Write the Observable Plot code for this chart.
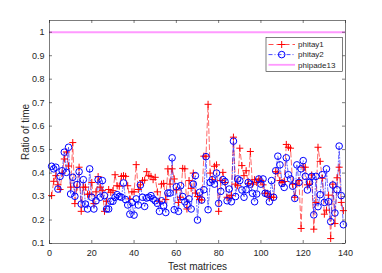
<!DOCTYPE html>
<html><head><meta charset="utf-8">
<script src="https://cdn.jsdelivr.net/npm/d3@7"></script>
<script src="https://cdn.jsdelivr.net/npm/@observablehq/plot@0.6"></script>
<style>html,body{margin:0;padding:0;background:#fff}svg{display:block}</style>
</head><body><div id="chart"></div>
<script>
const phitay1 = [0.304,0.365,0.389,0.35,0.33,0.40,0.46,0.49,0.43,0.34,
0.53,0.27,0.34,0.425,0.237,0.34,0.34,0.31,0.31,0.36,
0.27,0.32,0.385,0.34,0.325,0.237,0.28,0.33,0.318,0.325,
0.393,0.346,0.344,0.386,0.389,0.386,0.346,0.29,0.32,0.32,
0.436,0.33,0.35,0.368,0.37,0.406,0.389,0.386,0.372,0.382,
0.32,0.28,0.353,0.356,0.287,0.418,0.353,0.418,0.375,0.328,
0.275,0.297,0.42,0.418,0.247,0.368,0.335,0.40,0.315,0.30,
0.287,0.285,0.472,0.472,0.693,0.40,0.372,0.429,0.435,0.237,
0.368,0.403,0.36,0.297,0.294,0.304,0.553,0.353,0.346,0.506,
0.432,0.389,0.41,0.356,0.492,0.353,0.372,0.36,0.375,0.368,
0.35,0.314,0.314,0.297,0.297,0.297,0.406,0.40,0.368,0.36,
0.364,0.522,0.51,0.506,0.353,0.297,0.353,0.368,0.164,0.425,
0.425,0.35,0.353,0.392,0.161,0.275,0.51,0.45,0.378,0.225,
0.242,0.306,0.121,0.353,0.185,0.38,0.425,0.275,0.24];
const phitay2 = [0.429,0.418,0.425,0.332,0.386,0.41,0.489,0.403,0.51,0.311,
0.382,0.301,0.351,0.406,0.268,0.372,0.268,0.247,0.418,0.297,
0.247,0.282,0.372,0.297,0.368,0.304,0.247,0.247,0.28,0.28,
0.297,0.308,0.30,0.297,0.358,0.287,0.264,0.225,0.275,0.221,
0.29,0.264,0.349,0.297,0.258,0.294,0.297,0.304,0.29,0.282,
0.271,0.237,0.282,0.261,0.232,0.315,0.315,0.465,0.244,0.342,
0.237,0.346,0.30,0.278,0.265,0.29,0.247,0.353,0.389,0.20,
0.318,0.285,0.329,0.47,0.244,0.36,0.372,0.353,0.40,0.271,
0.322,0.372,0.364,0.282,0.332,0.278,0.536,0.30,0.375,0.368,
0.328,0.297,0.329,0.36,0.353,0.314,0.278,0.311,0.375,0.353,
0.375,0.314,0.311,0.278,0.368,0.297,0.41,0.472,0.435,0.356,
0.339,0.465,0.393,0.375,0.344,0.292,0.435,0.36,0.418,0.453,
0.386,0.328,0.36,0.386,0.222,0.386,0.257,0.308,0.393,0.275,
0.418,0.278,0.193,0.349,0.23,0.329,0.515,0.304,0.18];
const phipade13 = 1;
const seriesNames = ["phitay1", "phitay2", "phipade13"];
const xTicks = [0, 20, 40, 60, 80, 100, 120, 140];
const yTicks = [0.1, 0.2, 0.3, 0.4, 0.5, 0.6, 0.7, 0.8, 0.9, 1];
const xLabel = "Test matrices";
const yLabel = "Ratio of time";

const matrices = phitay1.map((_, i) => i + 1);
const rows = matrices.map((m, i) => ({m, a: phitay1[i], b: phitay2[i]}));

const W = 382, H = 273, mt = 20, mr = 37, mb = 30, ml = 49;
const plotW = W - ml - mr, plotH = H - mt - mb;
const axisColor = "#262626";
const RED = "#ff0000", BLUE = "#0000ff", MAG = "#ff99ff";
const fmt = d3.format("~g");

const chart = Plot.plot({
  width: W, height: H,
  marginTop: mt, marginRight: mr, marginBottom: mb, marginLeft: ml,
  style: {fontFamily: "'Liberation Sans', Arial, sans-serif", fontSize: "9px", color: axisColor, background: "white"},
  x: {domain: [0, 140]},
  y: {domain: [0.1, 1.05]},
  marks: [
    Plot.ruleY([phipade13], {stroke: MAG, strokeWidth: 1.8}),
    Plot.line(rows, {x: "m", y: "a", stroke: RED, strokeWidth: 0.7, strokeOpacity: 0.85, strokeDasharray: "5,3"}),
    Plot.line(rows, {x: "m", y: "b", stroke: BLUE, strokeWidth: 0.7, strokeOpacity: 0.85, strokeDasharray: "4,2,1,2"}),
    Plot.dot(rows, {x: "m", y: "a", symbol: "plus", r: 2.4, stroke: RED, strokeWidth: 1}),
    Plot.dot(rows, {x: "m", y: "b", symbol: "circle", r: 3.3, stroke: BLUE, fill: "none", strokeWidth: 1}),
    Plot.tickX(xTicks, {x: d => d, insetTop: plotH - 3, stroke: axisColor, strokeWidth: 0.6}),
    Plot.tickX(xTicks, {x: d => d, insetBottom: plotH - 3, stroke: axisColor, strokeWidth: 0.6}),
    Plot.tickY(yTicks, {y: d => d, insetRight: plotW - 3, stroke: axisColor, strokeWidth: 0.6}),
    Plot.tickY(yTicks, {y: d => d, insetLeft: plotW - 3, stroke: axisColor, strokeWidth: 0.6}),
    Plot.frame({stroke: axisColor, strokeWidth: 0.6}),
    Plot.axisX({ticks: xTicks, tickSize: 0, tickPadding: 6, tickFormat: fmt, label: null, fontSize: 9}),
    Plot.axisY({ticks: yTicks, tickSize: 0, tickPadding: 5, tickFormat: fmt, label: null, fontSize: 9}),
    Plot.axisX({ticks: [], tickSize: 0, label: xLabel, labelAnchor: "center", labelArrow: "none", labelOffset: 26, fontSize: 10}),
    Plot.axisY({ticks: [], tickSize: 0, label: yLabel, labelAnchor: "center", labelArrow: "none", labelOffset: 28, fontSize: 10})
  ]
});
document.getElementById("chart").appendChild(chart);

// Legend (MATLAB style box)
const svg = d3.select(chart);
const lg = svg.append("g").attr("font-family", "'Liberation Sans', Arial, sans-serif")
  .attr("font-size", 8).attr("fill", axisColor).attr("text-anchor", "start");
lg.append("rect").attr("x", 266).attr("y", 37.5).attr("width", 76.5).attr("height", 34)
  .attr("fill", "white").attr("stroke", axisColor).attr("stroke-width", 0.6);
const rowsY = [44.5, 54.6, 64.8];
const styles = [
  {stroke: RED, w: 0.7, dash: "5,3", marker: "plus"},
  {stroke: BLUE, w: 0.7, dash: "4,2,1,2", marker: "circle"},
  {stroke: MAG, w: 1.8, dash: null, marker: null}
];
seriesNames.forEach((name, i) => {
  const y = rowsY[i], s = styles[i];
  const ln = lg.append("line").attr("x1", 268.5).attr("x2", 295).attr("y1", y).attr("y2", y)
    .attr("stroke", s.stroke).attr("stroke-width", s.w);
  if (s.dash) ln.attr("stroke-dasharray", s.dash);
  if (s.marker === "plus") lg.append("path").attr("d", `M${281.7-3.5},${y}H${281.7+3.5}M281.7,${y-3.5}V${y+3.5}`).attr("stroke", s.stroke).attr("fill", "none");
  if (s.marker === "circle") lg.append("circle").attr("cx", 281.7).attr("cy", y).attr("r", 3.3).attr("stroke", s.stroke).attr("fill", "none");
  lg.append("text").attr("x", 298).attr("y", y).attr("dy", "0.35em").text(name);
});
</script>
</body></html>
